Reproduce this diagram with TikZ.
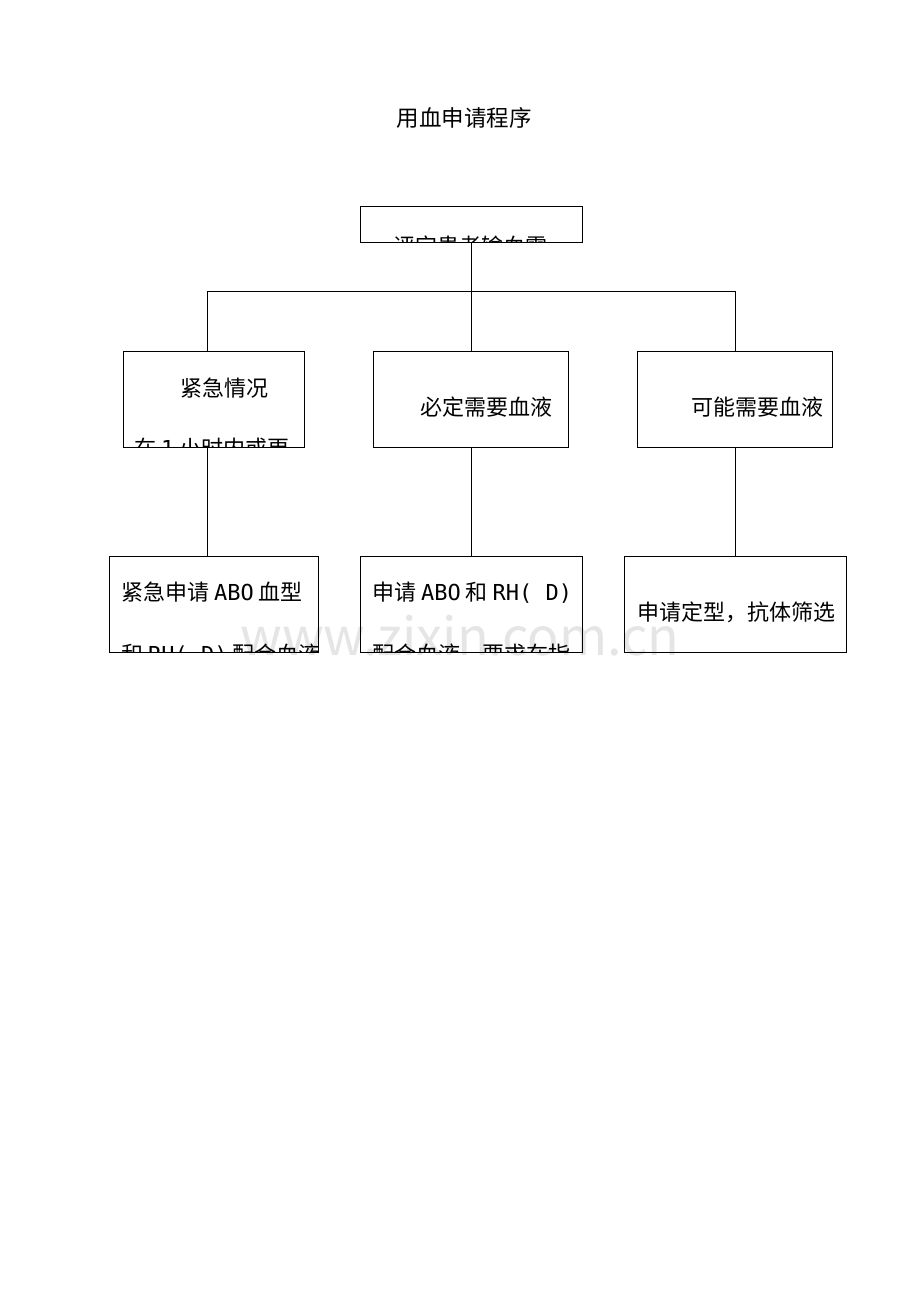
\documentclass[tikz,border=0pt]{standalone}
\usepackage{fontspec}
\setmainfont{Noto Sans CJK SC}
\newfontfamily\latmono{DejaVu Sans Mono}
\begin{document}
\begin{tikzpicture}[x=1pt,y=-1pt,
  box/.style={draw,line width=0.8pt},
  txt/.style={anchor=base west,inner sep=0,font=\fontsize{22}{22}\selectfont},
  ln/.style={line width=0.8pt}]
\useasboundingbox (0,0) rectangle (920,1302);
\fill[white] (0,0) rectangle (920,1302);
\node[font=\fontsize{22.5}{22.5}\selectfont,anchor=base] (title) at (464,126) {用血申请程序};
\node[text=black!10,font=\fontsize{52}{52}\selectfont,anchor=base] (wm) at (460,655) {www.zixin.com.cn};
% boxes
\coordinate (a1) at (360,206); \coordinate (a2) at (582,242);
\coordinate (b1) at (123,351); \coordinate (b2) at (304,447);
\coordinate (c1) at (373,351); \coordinate (c2) at (568,447);
\coordinate (d1) at (637,351); \coordinate (d2) at (832,447);
\coordinate (e1) at (109,556); \coordinate (e2) at (318,652);
\coordinate (f1) at (360,556); \coordinate (f2) at (582,652);
\coordinate (g1) at (624,556); \coordinate (g2) at (846,652);
\begin{scope}\clip (a1) rectangle (a2);
\node[txt] (ta) at (393,254) {评定患者输血需};\end{scope}
\begin{scope}\clip (b1) rectangle (b2);
\node[txt] (tb) at (180,396) {紧急情况};
\node[txt] (tb2) at (134,456) {在 {\latmono 1} 小时内或更};\end{scope}
\node[txt] (tc) at (420,415) {必定需要血液};
\node[txt] (td) at (691,415) {可能需要血液};
\begin{scope}\clip (e1) rectangle (e2);
\node[txt] (te) at (121,600) {紧急申请 {\latmono ABO} 血型};
\node[txt] (te2) at (121,662) {和 {\latmono RH( D)} 配合血液};\end{scope}
\begin{scope}\clip (f1) rectangle (f2);
\node[txt] (tf) at (372,600) {申请 {\latmono ABO} 和 {\latmono RH( D)}};
\node[txt] (tf2) at (372,662) {配合血液，要求在指};\end{scope}
\node[txt] (tg) at (637,620) {申请定型，抗体筛选};
\foreach \p in {a,b,c,d,e,f,g} \draw[box] (\p1) rectangle (\p2);
% connectors
\coordinate (j) at (471,291); \coordinate (jl) at (207,291); \coordinate (jr) at (735,291);
\draw[ln] (471,242) -- (j);
\draw[ln] (jl) -- (jr);
\draw[ln] (jl) -- (207,351);
\draw[ln] (j) -- (471,351);
\draw[ln] (jr) -- (735,351);
\draw[ln] (207,447) -- (207,556);
\draw[ln] (471,447) -- (471,556);
\draw[ln] (735,447) -- (735,556);
\end{tikzpicture}
\end{document}
